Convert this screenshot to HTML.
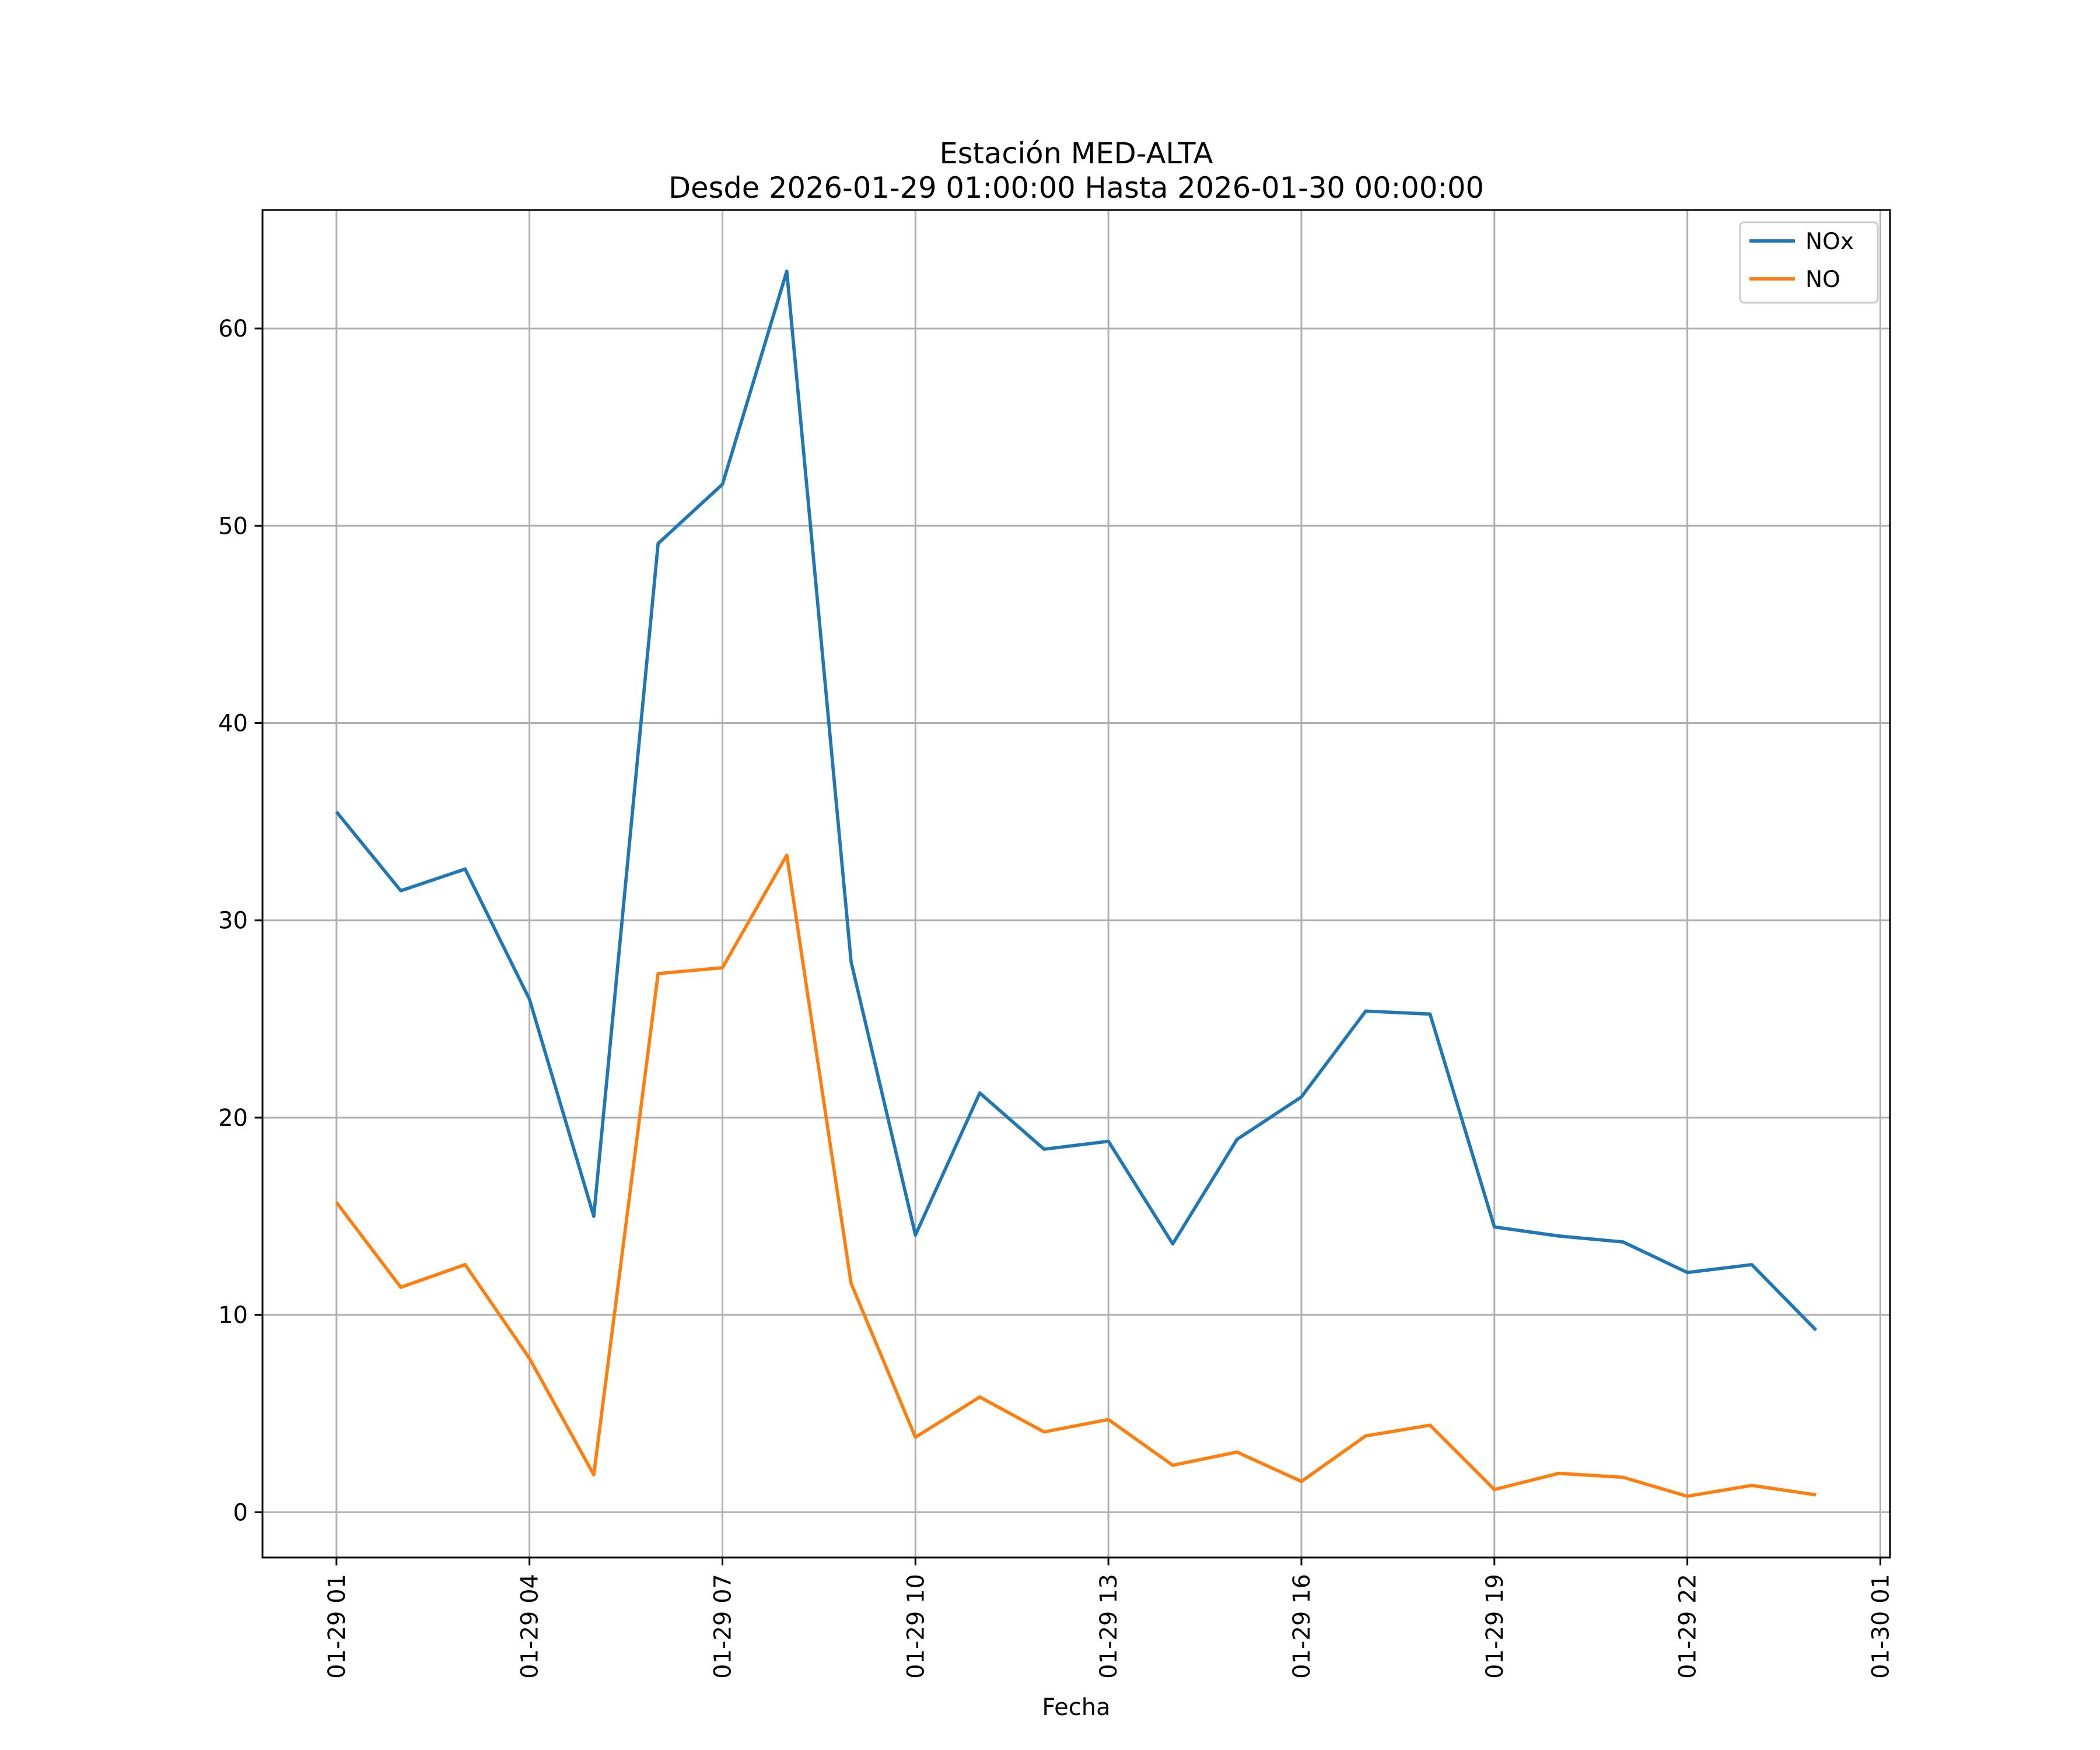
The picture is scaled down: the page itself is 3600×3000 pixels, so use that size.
<!DOCTYPE html>
<html><head><meta charset="utf-8"><style>
html,body{margin:0;padding:0;background:#fff;}
svg{display:block;font-family:"DejaVu Sans","Liberation Sans",sans-serif;}
</style></head><body>
<svg id="chart" width="3600" height="3000" viewBox="0 0 3600 3000">
<rect width="3600" height="3000" fill="#fff"/>
<g id="grid"></g><g id="series"></g><g id="axes"></g>
<text x="1845" y="280" text-anchor="middle" font-size="49.5">Estación MED-ALTA</text>
<text x="1845" y="339" text-anchor="middle" font-size="49.5">Desde 2026-01-29 01:00:00 Hasta 2026-01-30 00:00:00</text>
<text x="1845" y="2940" text-anchor="middle" font-size="40">Fecha</text>
<g>
<rect x="2983" y="381" width="236" height="138" rx="7" fill="#fff" fill-opacity="0.8" stroke="#ccc" stroke-width="3"/>
<g><line x1="2999" y1="413" x2="3077" y2="413" stroke="#1f77b4" stroke-width="5.7"/><text x="3095" y="427" font-size="39">NOx</text></g>
<g><line x1="2999" y1="478" x2="3077" y2="478" stroke="#ff7f0e" stroke-width="5.7"/><text x="3095" y="492" font-size="39">NO</text></g>
</g>
</svg>
<script>
const hours = [1,2,3,4,5,6,7,8,9,10,11,12,13,14,15,16,17,18,19,20,21,22,23,24];
const noxValues = [35.5,31.5,32.6,26.0,15.0,49.1,52.1,62.9,27.9,14.05,21.25,18.4,18.8,13.6,18.9,21.05,25.4,25.25,14.46,14.0,13.7,12.15,12.55,9.23];
const noValues = [15.7,11.4,12.55,7.8,1.9,27.3,27.6,33.3,11.6,3.8,5.84,4.07,4.7,2.38,3.05,1.56,3.87,4.41,1.15,1.97,1.77,0.81,1.36,0.88];
const xTickHours = [1,4,7,10,13,16,19,22,25];
const xTickLabels = ["01-29 01","01-29 04","01-29 07","01-29 10","01-29 13","01-29 16","01-29 19","01-29 22","01-30 01"];
const yTicks = [0,10,20,30,40,50,60];

const L=450,R=3240,T=360,B=2670,NS="http://www.w3.org/2000/svg";
const xmin0=Math.min(...hours),xmax0=Math.max(...hours),xs=(xmax0-xmin0)*0.05;
const allY=noxValues.concat(noValues);
const ymin0=Math.min(...allY),ymax0=Math.max(...allY),ys=(ymax0-ymin0)*0.05;
const xd=[xmin0-xs,xmax0+xs],yd=[ymin0-ys,ymax0+ys];
const X=v=>L+(v-xd[0])/(xd[1]-xd[0])*(R-L);
const Y=v=>B-(v-yd[0])/(yd[1]-yd[0])*(B-T);
function mk(tag,attrs,parent){const e=document.createElementNS(NS,tag);for(const k in attrs)e.setAttribute(k,attrs[k]);parent.appendChild(e);return e;}
const grid=document.getElementById('grid'),axes=document.getElementById('axes'),series=document.getElementById('series');
xTickHours.forEach((h,i)=>{
 const x=X(h);
 const g=mk('line',{x1:x,x2:x,y1:T,y2:B,stroke:'#b0b0b0','stroke-width':3},grid);
 
 
 const t=mk('line',{x1:x,x2:x,y1:B,y2:B+13.4,stroke:'#000','stroke-width':3},axes);
 
 
 const tx=mk('text',{transform:`translate(${x+14},${B+28}) rotate(-90)`,'text-anchor':'end','font-size':40},axes);
 tx.textContent=xTickLabels[i];
 
 
});
yTicks.forEach(v=>{
 const y=Y(v);
 const g=mk('line',{x1:L,x2:R,y1:y,y2:y,stroke:'#b0b0b0','stroke-width':3},grid);
 
 
 const t=mk('line',{x1:L-13.4,x2:L,y1:y,y2:y,stroke:'#000','stroke-width':3},axes);
 
 
 const tx=mk('text',{x:L-25,y:y+14,'text-anchor':'end','font-size':40},axes);
 tx.textContent=String(v);
 
 
});
const frame=mk('rect',{x:L,y:T,width:R-L,height:B-T,fill:'none',stroke:'#000','stroke-width':3},axes);


const p1=mk('polyline',{points:hours.map((h,i)=>X(h)+','+Y(noxValues[i])).join(' '),fill:'none',stroke:'#1f77b4','stroke-width':5.7,'stroke-linejoin':'round'},series);


const p2=mk('polyline',{points:hours.map((h,i)=>X(h)+','+Y(noValues[i])).join(' '),fill:'none',stroke:'#ff7f0e','stroke-width':5.7,'stroke-linejoin':'round'},series);


</script>
</body></html>
